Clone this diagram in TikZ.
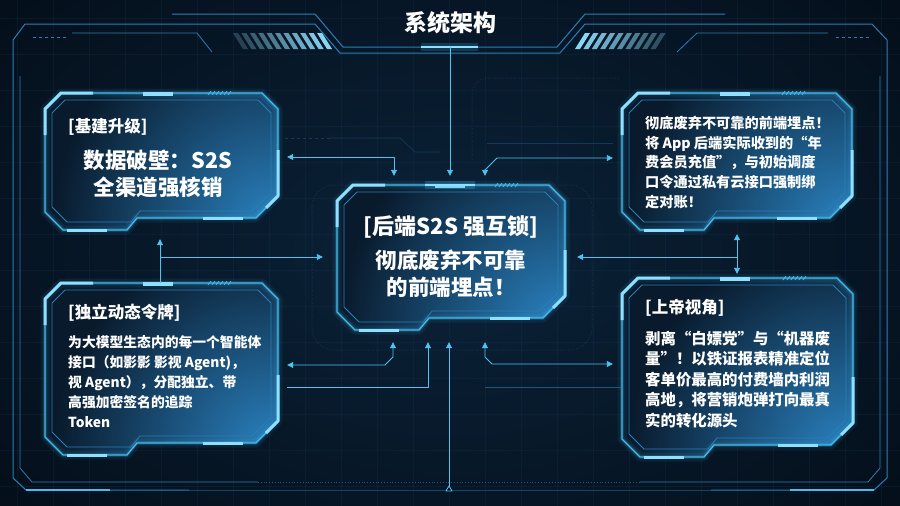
\documentclass[tikz,border=0pt]{standalone}
\usepackage{fontspec}
\setmainfont{Noto Sans CJK SC}
\usetikzlibrary{arrows.meta,calc}
\definecolor{bgA}{HTML}{040E1A}
\definecolor{bgB}{HTML}{0B2339}
\definecolor{gridc}{HTML}{1A3B58}
\definecolor{frm}{HTML}{45BDF0}
\definecolor{frmD}{HTML}{2A7FB5}
\definecolor{acc}{HTML}{8FE0FF}
\definecolor{boxD}{HTML}{091A2C}
\definecolor{boxL}{HTML}{2A82C0}
\definecolor{conn}{HTML}{52C2F0}
\tikzset{
 oP/.style n args={4}{insert path={(#1,{#2+16}) -- ({#1+16},#2) -- ({#3-16},#2) -- (#3,{#2+16}) -- (#3,{#4-34}) -- ({#3-22},{#4-12}) -- ({#1+92},{#4-12}) -- ({#1+82},#4) -- ({#1+18},#4) -- (#1,{#4-18}) -- cycle}},
 iP/.style n args={4}{insert path={({#1+7},{#2+20}) -- ({#1+20},{#2+7}) -- ({#3-20},{#2+7}) -- ({#3-7},{#2+20}) -- ({#3-7},{#4-37}) -- ({#3-26},{#4-19}) -- ({#1+95},{#4-19}) -- ({#1+86},{#4-8}) -- ({#1+22},{#4-8}) -- ({#1+7},{#4-23}) -- cycle}},
 hit/.style={draw=none, fill=none, inner sep=0, rectangle},
 conn/.style={draw=conn, line width=0.9pt, line join=round},
 tipE/.style={-{Triangle[length=6pt,width=6pt]}},
 tipB/.style={{Triangle[length=6pt,width=6pt]}-{Triangle[length=6pt,width=6pt]}},
 ttl/.style={text=white, font=\bfseries\fontsize{16.5}{19}\selectfont, anchor=west, inner sep=0},
 body/.style={text=white, align=left, anchor=north west, inner sep=0},
 big/.style={text=white, align=center, inner sep=0, font=\bfseries\fontsize{21.5}{27}\selectfont},
 frameline/.style={draw=frmD, line width=1pt, line join=round},
 trace/.style={draw=frmD, opacity=.3, line width=.6pt},
}
\newcommand\techbox[4]{%
 \fill[boxD][oP={#1}{#2}{#3}{#4}];
 \begin{scope}
  \clip[oP={#1}{#2}{#3}{#4}];
  \shade[inner color=boxL, outer color=boxD] ({#3-5},{#4-5}) circle (220);
 \end{scope}
 \draw[frm, line width=9pt, opacity=.08, line join=round][oP={#1}{#2}{#3}{#4}];
 \draw[frm, line width=4pt, opacity=.18, line join=round][oP={#1}{#2}{#3}{#4}];
 \draw[frm, line width=1.3pt, line join=round][oP={#1}{#2}{#3}{#4}];
 \draw[frmD, line width=0.8pt, line join=round][iP={#1}{#2}{#3}{#4}];
 \draw[acc, line width=3pt, line join=round] (#1,{#2+42}) -- (#1,{#2+16}) -- ({#1+16},#2) -- ({#1+48},#2);
 \draw[acc, line width=4pt] ({#1+98},{#2+1}) -- ({#1+128},{#2+1});
 \draw[acc, line width=3pt, line join=round] (#3,{#4-80}) -- (#3,{#4-34}) -- ({#3-12},{#4-22});
 \draw[acc, line width=3pt] ({#1+22},#4) -- ({#1+62},#4);
 \draw[acc, line width=3pt] ({#3-75},{#4-12}) -- ({#3-35},{#4-12});
 \foreach \k in {0,...,5} \draw[frm, line width=.8pt] ({#3-70+\k*4},{#2+2}) -- ({#3-67+\k*4},{#2-2});
}
\begin{document}
\begin{tikzpicture}[x=1pt,y=-1pt]
\useasboundingbox (0,0) rectangle (900,506);
% background
\fill[bgA] (0,0) rectangle (900,506);
\shade[inner color=bgB, outer color=bgA] (-150,-150) rectangle (1050,656);
\foreach \x in {17,53,...,900} \draw[gridc, opacity=.22, line width=.4pt] (\x,0) -- (\x,506);
\foreach \y in {18,54,...,506} \draw[gridc, opacity=.22, line width=.4pt] (0,\y) -- (900,\y);
% faint traces
\draw[trace, dashed] (285,138) -- (330,138);
\draw[trace] (330,138) -- (400,138) -- (415,152) -- (440,152);
\draw[trace] (487,143) -- (613,143);
\draw[trace, dotted, line width=1pt, rounded corners=22] (312,185) rectangle (592,350);
\draw[trace, dotted, line width=1pt, rounded corners=16] (472,160) |- (620,78);
% outer frame
\draw[frameline] (172,14) -- (315,14) -- (343,47) -- (557,47) -- (585,14) -- (725,14);
\draw[frameline] (13,478) -- (13,40) -- (25,24) -- (315,24) -- (340,53) -- (560,53) -- (585,24) -- (872,24) -- (887,40) -- (887,478);
\draw[frameline] (13,478) -- (26,490) -- (189,490);
\draw[frameline] (711,490) -- (874,490) -- (887,478);
\draw[frameline, opacity=.45] (189,490) -- (711,490);
\draw[frameline, line width=.8pt] (20,76) -- (20,468) -- (32,482) -- (258,482);
\draw[frameline, line width=.8pt] (880,76) -- (880,468) -- (868,482) -- (640,482);
\draw[frameline, line width=.8pt, dotted, opacity=.6] (258,482) -- (640,482);
\draw[frameline, line width=.8pt] (72,33) -- (197,33) -- (212,52);
\draw[frameline, line width=.8pt] (828,33) -- (697,33) -- (677,52);
\draw[frm, line width=1.6pt] (26,490) -- (110,490);
\draw[frm, line width=1.6pt] (790,490) -- (874,490);
\foreach \x in {33,39,...,63} \draw[frmD, line width=1pt] (\x,37) -- (\x+2.5,37);
\foreach \x in {836,842,...,866} \draw[frmD, line width=1pt] (\x,37) -- (\x+2.5,37);
% stripes
\foreach \i in {0,...,10} {
  \pgfmathsetmacro\p{25+7*\i}
  \fill[acc!\p!bgA] ({233+\i*8.4},33) -- ({238+\i*8.4},33) -- ({248+\i*8.4},49) -- ({243+\i*8.4},49) -- cycle;
}
\foreach \i in {0,...,9} {
  \pgfmathsetmacro\p{95-7*\i}
  \fill[acc!\p!bgA] ({585+\i*8.4},33) -- ({590+\i*8.4},33) -- ({580+\i*8.4},49) -- ({575+\i*8.4},49) -- cycle;
}
% title
\draw[frm, line width=8pt, opacity=.2] (421,47) -- (478,47);
\draw[acc, line width=2.5pt] (421,47) -- (478,47);
\node[text=white, font=\bfseries\fontsize{23}{26}\selectfont] (title) at (450,23) {系统架构};
\coordinate (tb) at (450,47);
% boxes
\techbox{45}{93}{278}{230}
\techbox{622}{93}{852}{230}
\techbox{45}{283}{278}{455}
\techbox{622}{278}{853}{457}
\techbox{337}{185}{565}{330}
\draw[frm, line width=8pt, opacity=.25] (425,185) -- (475,185);
\draw[acc, line width=2.2pt] (425,185) -- (475,185);
\node[hit, minimum width=233pt, minimum height=137pt] (b1) at (161.5,161.5) {};
\node[hit, minimum width=230pt, minimum height=137pt] (b2) at (737,161.5) {};
\node[hit, minimum width=233pt, minimum height=172pt] (b3) at (161.5,369) {};
\node[hit, minimum width=231pt, minimum height=179pt] (b4) at (737.5,367.5) {};
\node[hit, minimum width=228pt, minimum height=145pt] (c) at (451,257.5) {};
% texts
\node[ttl] (t1) at (68,127) {[基建升级]};
\node[big] (m1) at (158,173.5) {数据破壁：S2S\\全渠道强核销};
\node[body, font=\bfseries\fontsize{14.2}{19.7}\selectfont] (m2) at (645,116) {彻底废弃不可靠的前端埋点！\\将 App 后端实际收到的“年\\费会员充值”，与初始调度\\口令通过私有云接口强制绑\\定对账！};
\node[ttl] (t3) at (68,313) {[独立动态令牌]};
\node[body, font=\bfseries\fontsize{13.8}{20}\selectfont] (m3) at (68,335) {为大模型生态内的每一个智能体\\接口（如影影 影视 Agent)，\\视 Agent），分配独立、带\\高强加密签名的追踪\\Token};
\node[ttl] (t4) at (645,308) {[上帝视角]};
\node[body, font=\bfseries\fontsize{15.4}{20.5}\selectfont] (m4) at (645,330.5) {剥离“白嫖党”与“机器废\\量”！以铁证报表精准定位\\客单价最高的付费墙内利润\\高地，将营销炮弹打向最真\\实的转化源头};
\node[text=white, inner sep=0, font=\bfseries\fontsize{22}{26}\selectfont] (tc) at (451,227) {[后端S2S 强互锁]};
\node[big] (mc) at (451,273.5) {彻底废弃不可靠\\的前端埋点！};
% connectors
\coordinate (j1) at (394,157);
\coordinate (j2) at (497,158);
\coordinate (j2b) at (485,170);
\coordinate (j3) at (160,257);
\coordinate (j4) at (737,257);
\coordinate (j5) at (393,357);
\coordinate (j5b) at (385,365);
\coordinate (j6) at (428,387);
\coordinate (j7) at (485,357);
\coordinate (j7b) at (492,364);
\coordinate (bb) at (449,490);
\draw[conn, tipE, shorten >=9pt] (tb) -- (tb |- c.north);
\draw[conn, tipB, shorten <=9pt, shorten >=9pt] (b1.east |- j1) -- (j1) -- (j1 |- c.north);
\draw[conn, tipB, shorten <=9pt, shorten >=9pt] (b2.west |- j2) -- (j2) -- (j2b) -- (j2b |- c.north);
\draw[conn, tipE, shorten >=9pt] (j3 |- b3.north) -- (j3 |- b1.south);
\draw[conn, tipE, shorten >=14pt] (j3) -- (j3 -| c.west);
\draw[conn, tipB, shorten <=4pt, shorten >=4pt] (j4 |- b2.south) -- (j4 |- b4.north);
\draw[conn, tipE, shorten >=12pt] (j4) -- (j4 -| c.east);
\draw[conn, tipB, shorten <=9pt, shorten >=12pt] (b3.east |- j5b) -- (j5b) -- (j5) -- (j5 |- c.south);
\draw[conn, tipE, shorten >=12pt] ($(b3.east |- j6)+(9,0)$) -- (j6) -- (j6 |- c.south);
\draw[conn, tipE, shorten >=12pt] (bb) -- (bb |- c.south);
\draw[conn, tipB, shorten <=9pt, shorten >=12pt] (b4.west |- j7b) -- (j7b) -- (j7) -- (j7 |- c.south);
\draw[trace, opacity=.6] (485,387) -- (622,387);
\fill[conn] (449,486) -- (452,491) -- (446,491) -- cycle;
\end{tikzpicture}
\end{document}
